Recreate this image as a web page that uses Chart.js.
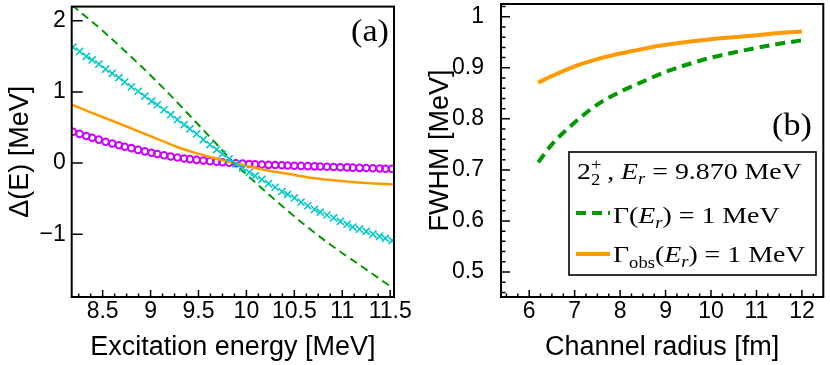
<!DOCTYPE html>
<html>
<head>
<meta charset="utf-8">
<script src="https://cdn.jsdelivr.net/npm/chart.js@4.4.1/dist/chart.umd.min.js"></script>
<style>
  html, body { margin: 0; padding: 0; background: #fff; }
  #wrap { position: relative; width: 830px; height: 365px; overflow: hidden; background: #fff; }
  canvas { position: absolute; top: 0; }
</style>
</head>
<body>
<div id="wrap">
  <canvas id="ca" width="415" height="365" style="left:0"></canvas>
  <canvas id="cb" width="415" height="365" style="left:415px"></canvas>
</div>
<script>
// ---------------- DATA ----------------
// Panel (a): excitation energy grid for the marker series [MeV]
const energyGrid = [8.19, 8.26, 8.33, 8.39, 8.46, 8.53, 8.60, 8.67, 8.73, 8.80,
  8.87, 8.94, 9.01, 9.07, 9.14, 9.21, 9.28, 9.35, 9.41, 9.48,
  9.55, 9.62, 9.69, 9.75, 9.82, 9.89, 9.96, 10.03, 10.09, 10.16,
  10.23, 10.30, 10.37, 10.43, 10.50, 10.57, 10.64, 10.71, 10.77, 10.84,
  10.91, 10.98, 11.05, 11.11, 11.18, 11.25, 11.32, 11.39, 11.45, 11.52];
// cyan crosses
const deltaCross = [1.63, 1.57, 1.50, 1.45, 1.39, 1.32, 1.26, 1.20, 1.14, 1.07,
  1.01, 0.94, 0.87, 0.82, 0.75, 0.68, 0.61, 0.54, 0.48, 0.41,
  0.33, 0.26, 0.19, 0.13, 0.06, -0.01, -0.07, -0.13, -0.18, -0.23,
  -0.29, -0.34, -0.40, -0.44, -0.49, -0.55, -0.60, -0.65, -0.69, -0.73,
  -0.77, -0.82, -0.86, -0.90, -0.93, -0.96, -1.00, -1.03, -1.06, -1.09];
// magenta circles
const deltaCircle = [0.44, 0.41, 0.38, 0.355, 0.33, 0.30, 0.275, 0.25, 0.23, 0.21,
  0.185, 0.165, 0.145, 0.128, 0.11, 0.093, 0.078, 0.065, 0.055, 0.045,
  0.035, 0.027, 0.019, 0.012, 0.005, -0.002, -0.008, -0.013, -0.017, -0.021,
  -0.025, -0.028, -0.031, -0.034, -0.037, -0.040, -0.043, -0.046, -0.049, -0.052,
  -0.055, -0.058, -0.061, -0.064, -0.067, -0.070, -0.073, -0.076, -0.079, -0.082];
// green dashed
const energyDashed = [8.18, 8.5, 8.8, 9.1, 9.4, 9.7, 9.87, 10.0, 10.3, 10.6, 10.9, 11.2, 11.52];
const deltaDashed  = [2.22, 1.86, 1.49, 1.10, 0.68, 0.25, 0.0, -0.16, -0.52, -0.86, -1.17, -1.45, -1.75];
// orange solid
const energySolid = [8.18, 8.4, 8.6, 8.85, 9.05, 9.27, 9.45, 9.62, 9.87, 10.17, 10.45, 10.69, 10.9, 11.1, 11.3, 11.53];
const deltaSolid  = [0.82, 0.70, 0.595, 0.46, 0.35, 0.23, 0.15, 0.085, 0.0, -0.09, -0.155, -0.21, -0.24, -0.265, -0.285, -0.30];

// Panel (b): channel radius [fm] and FWHM [MeV]
const radius    = [6.2, 6.5, 7, 7.5, 8, 8.5, 9, 9.5, 10, 10.5, 11, 11.5, 12];
const fwhmGamma = [0.715, 0.75, 0.793, 0.828, 0.853, 0.873, 0.892, 0.907, 0.920, 0.930, 0.939, 0.947, 0.954];
const fwhmObs   = [0.871, 0.884, 0.903, 0.917, 0.928, 0.937, 0.945, 0.951, 0.956, 0.960, 0.964, 0.968, 0.971];

// tick labels
const xTicksA = [8.5, 9, 9.5, 10, 10.5, 11, 11.5];
const yTicksA = [-1, 0, 1, 2];
const xTicksB = [6, 7, 8, 9, 10, 11, 12];
const yTicksB = [0.5, 0.6, 0.7, 0.8, 0.9, 1];

// texts
const titleXA = 'Excitation energy [MeV]';
const titleYA = '\u0394(E) [MeV]';
const titleXB = 'Channel radius [fm]';
const titleYB = 'FWHM [MeV]';
const panelA = '(a)';
const panelB = '(b)';

// ---------------- STYLE / HELPERS ----------------
const GREEN = '#009a00', ORANGE = '#ff9a00', CYAN = '#00c8c8', MAGENTA = '#cc00ff';
const SANS = '"Liberation Sans", Arial, Helvetica, sans-serif';
const SERIF = '"Liberation Serif", "Times New Roman", serif';
const pts = (xs, ys) => xs.map((x, i) => ({x: x, y: ys[i]}));
const fmt = v => (v < 0 ? '\u2212' + Math.abs(v) : String(v));
const setTicks = arr => (s => { s.ticks = arr.map(v => ({value: v})); });

const frameTicks = {
  id: 'frameTicks',
  afterDraw(chart, args, o) {
    const {ctx, chartArea: a, scales: {x, y}} = chart;
    ctx.save();
    ctx.strokeStyle = '#000';
    ctx.lineWidth = o.tickWidth;
    ctx.beginPath();
    const drawX = (v, len) => { const p = x.getPixelForValue(v); ctx.moveTo(p, a.bottom); ctx.lineTo(p, a.bottom - len); };
    const drawY = (v, len) => { const p = y.getPixelForValue(v); ctx.moveTo(a.left, p); ctx.lineTo(a.left + len, p); };
    x.ticks.forEach(t => drawX(t.value, o.xMajor));
    y.ticks.forEach(t => drawY(t.value, o.yMajor));
    if (o.xMinorStep) {
      const k0 = Math.ceil(x.min / o.xMinorStep - 1e-6);
      for (let k = k0; k * o.xMinorStep <= x.max + 1e-9; k++) drawX(k * o.xMinorStep, o.xMinor);
    }
    if (o.yMinorStep) {
      const k0 = Math.ceil(y.min / o.yMinorStep - 1e-6);
      for (let k = k0; k * o.yMinorStep <= y.max + 1e-9; k++) drawY(k * o.yMinorStep, o.yMinor);
    }
    ctx.stroke();
    ctx.lineWidth = o.frameWidth;
    ctx.strokeRect(a.left, a.top, a.right - a.left, a.bottom - a.top);
    ctx.restore();
  }
};

// rich-text runs drawn with a horizontal stretch (reference text is wide)
function drawRuns(ctx, runs, x, y, sx) {
  ctx.save();
  ctx.translate(x, y);
  ctx.scale(sx, 1);
  ctx.fillStyle = '#000';
  ctx.textBaseline = 'alphabetic';
  ctx.textAlign = 'left';
  let cx = 0;
  runs.forEach(r => {
    ctx.font = r.f;
    ctx.fillText(r.t, cx, r.dy || 0);
    if (!r.stack) cx += ctx.measureText(r.t).width;
  });
  ctx.restore();
}
const LSX = 1.16;
const F = '24px ' + SERIF, FI = 'italic 24px ' + SERIF, FS = '16px ' + SERIF, FSI = 'italic 16px ' + SERIF;
const row1 = [{t: '2', f: F}, {t: '+', f: FS, dy: -9, stack: true}, {t: '2', f: FS, dy: 6},
  {t: ' , ', f: F}, {t: 'E', f: FI}, {t: 'r', f: FSI, dy: 5}, {t: ' = 9.870 MeV', f: F}];
const row2 = [{t: '\u0393(', f: F}, {t: 'E', f: FI}, {t: 'r', f: FSI, dy: 5}, {t: ') = 1 MeV', f: F}];
const row3 = [{t: '\u0393', f: F}, {t: 'obs', f: FS, dy: 6}, {t: '(', f: F}, {t: 'E', f: FI},
  {t: 'r', f: FSI, dy: 5}, {t: ') = 1 MeV', f: F}];
const PF = '31px ' + SERIF, PSX = 1.1;

const labelA = {
  id: 'labelA',
  afterDraw(chart) {
    const ctx = chart.ctx;
    ctx.save();
    ctx.font = PF;
    const w = ctx.measureText(panelA).width * PSX;
    drawRuns(ctx, [{t: panelA, f: PF}], 370 - w / 2, 41, PSX);
    ctx.restore();
  }
};

const legendB = {
  id: 'legendB',
  afterDraw(chart) {
    const ctx = chart.ctx;
    const ds = chart.data.datasets;
    ctx.save();
    ctx.font = PF;
    const w = ctx.measureText(panelB).width * PSX;
    drawRuns(ctx, [{t: panelB, f: PF}], 377 - w / 2, 135, PSX);
    // legend box
    ctx.fillStyle = '#fff';
    ctx.fillRect(154, 152, 247, 123);
    ctx.strokeStyle = '#000';
    ctx.lineWidth = 1.6;
    ctx.strokeRect(154, 152, 247, 123);
    drawRuns(ctx, row1, 162, 179, LSX);
    // line samples
    [[ds[0], 213], [ds[1], 254]].forEach(([d, yy]) => {
      ctx.save();
      ctx.strokeStyle = d.borderColor;
      ctx.lineWidth = d.borderWidth;
      ctx.setLineDash(d.borderDash || []);
      ctx.beginPath();
      ctx.moveTo(161, yy);
      ctx.lineTo(195, yy);
      ctx.stroke();
      ctx.restore();
    });
    drawRuns(ctx, row2, 198, 223, LSX);
    drawRuns(ctx, row3, 198, 262, LSX);
    ctx.restore();
  }
};

Chart.defaults.font.family = SANS;
Chart.defaults.color = '#000';

const commonScale = (min, max, ticksArr, title, tickPad, titlePad, fitSize, horiz) => ({
  type: 'linear',
  min: min, max: max,
  afterBuildTicks: setTicks(ticksArr),
  afterFit: s => {
    if (horiz) s.height = fitSize; else s.width = fitSize;
    s.paddingLeft = 0; s.paddingRight = 0; s.paddingTop = 0; s.paddingBottom = 0;
  },
  grid: {display: false, drawTicks: false},
  border: {display: false},
  ticks: {autoSkip: false, maxRotation: 0, minRotation: 0, padding: tickPad, color: '#000',
    font: {size: 23, family: SANS}, callback: v => fmt(v)},
  title: {display: true, text: title, color: '#000', font: {size: 27, family: SANS},
    padding: horiz ? {top: 0, bottom: titlePad} : {top: titlePad, bottom: 0}}
});

// ---------------- PANEL (a) ----------------
new Chart(document.getElementById('ca'), {
  type: 'line',
  data: {
    datasets: [
      {label: 'cross', data: pts(energyGrid, deltaCross), borderColor: CYAN, borderWidth: 1,
        pointStyle: 'crossRot', pointRadius: 5, pointBorderWidth: 1.6, pointBorderColor: CYAN,
        pointBackgroundColor: CYAN, showLine: false},
      {label: 'dashed', data: pts(energyDashed, deltaDashed), borderColor: GREEN, borderWidth: 2,
        borderDash: [8, 5], pointRadius: 0, cubicInterpolationMode: 'monotone'},
      {label: 'solid', data: pts(energySolid, deltaSolid), borderColor: ORANGE, borderWidth: 2.5,
        pointRadius: 0, cubicInterpolationMode: 'monotone'},
      {label: 'circle', data: pts(energyGrid, deltaCircle), showLine: false, pointStyle: 'circle',
        pointRadius: 3.3, pointBorderWidth: 2, pointBorderColor: MAGENTA,
        pointBackgroundColor: 'rgba(255,255,255,0)'}
    ]
  },
  options: {
    responsive: false, animation: false, devicePixelRatio: 1,
    layout: {padding: {left: 0, top: 4, right: 21, bottom: 0}},
    plugins: {legend: {display: false}, tooltip: {enabled: false},
      frameTicks: {tickWidth: 1.5, frameWidth: 2, xMajor: 7, xMinor: 3.5, xMinorStep: 0.125, yMajor: 11, yMinor: 0, yMinorStep: 0}},
    scales: {
      x: commonScale(8.177, 11.54, xTicksA, titleXA, 1, 1, 68, true),
      y: commonScale(-1.883, 2.2, yTicksA, titleYA, 6, 4, 71.7, false)
    }
  },
  plugins: [frameTicks, labelA]
});

// ---------------- PANEL (b) ----------------
new Chart(document.getElementById('cb'), {
  type: 'line',
  data: {
    datasets: [
      {label: '\u0393(Er) = 1 MeV', data: pts(radius, fwhmGamma), borderColor: GREEN, borderWidth: 4,
        borderDash: [10, 6], pointRadius: 0, cubicInterpolationMode: 'monotone'},
      {label: '\u0393obs(Er) = 1 MeV', data: pts(radius, fwhmObs), borderColor: ORANGE, borderWidth: 4,
        pointRadius: 0, cubicInterpolationMode: 'monotone'}
    ]
  },
  options: {
    responsive: false, animation: false, devicePixelRatio: 1,
    layout: {padding: {left: 0, top: 4, right: 6.7, bottom: 0}},
    plugins: {legend: {display: false}, tooltip: {enabled: false},
      frameTicks: {tickWidth: 1.5, frameWidth: 2, xMajor: 7, xMinor: 3.5, xMinorStep: 0.25, yMajor: 9, yMinor: 4.5, yMinorStep: 0.02}},
    scales: {
      x: commonScale(5.38, 12.47, xTicksB, titleXB, 1, 1, 68, true),
      y: commonScale(0.451, 1.025, yTicksB, titleYB, 17, 9, 86, false)
    }
  },
  plugins: [frameTicks, legendB]
});
</script>
</body>
</html>
